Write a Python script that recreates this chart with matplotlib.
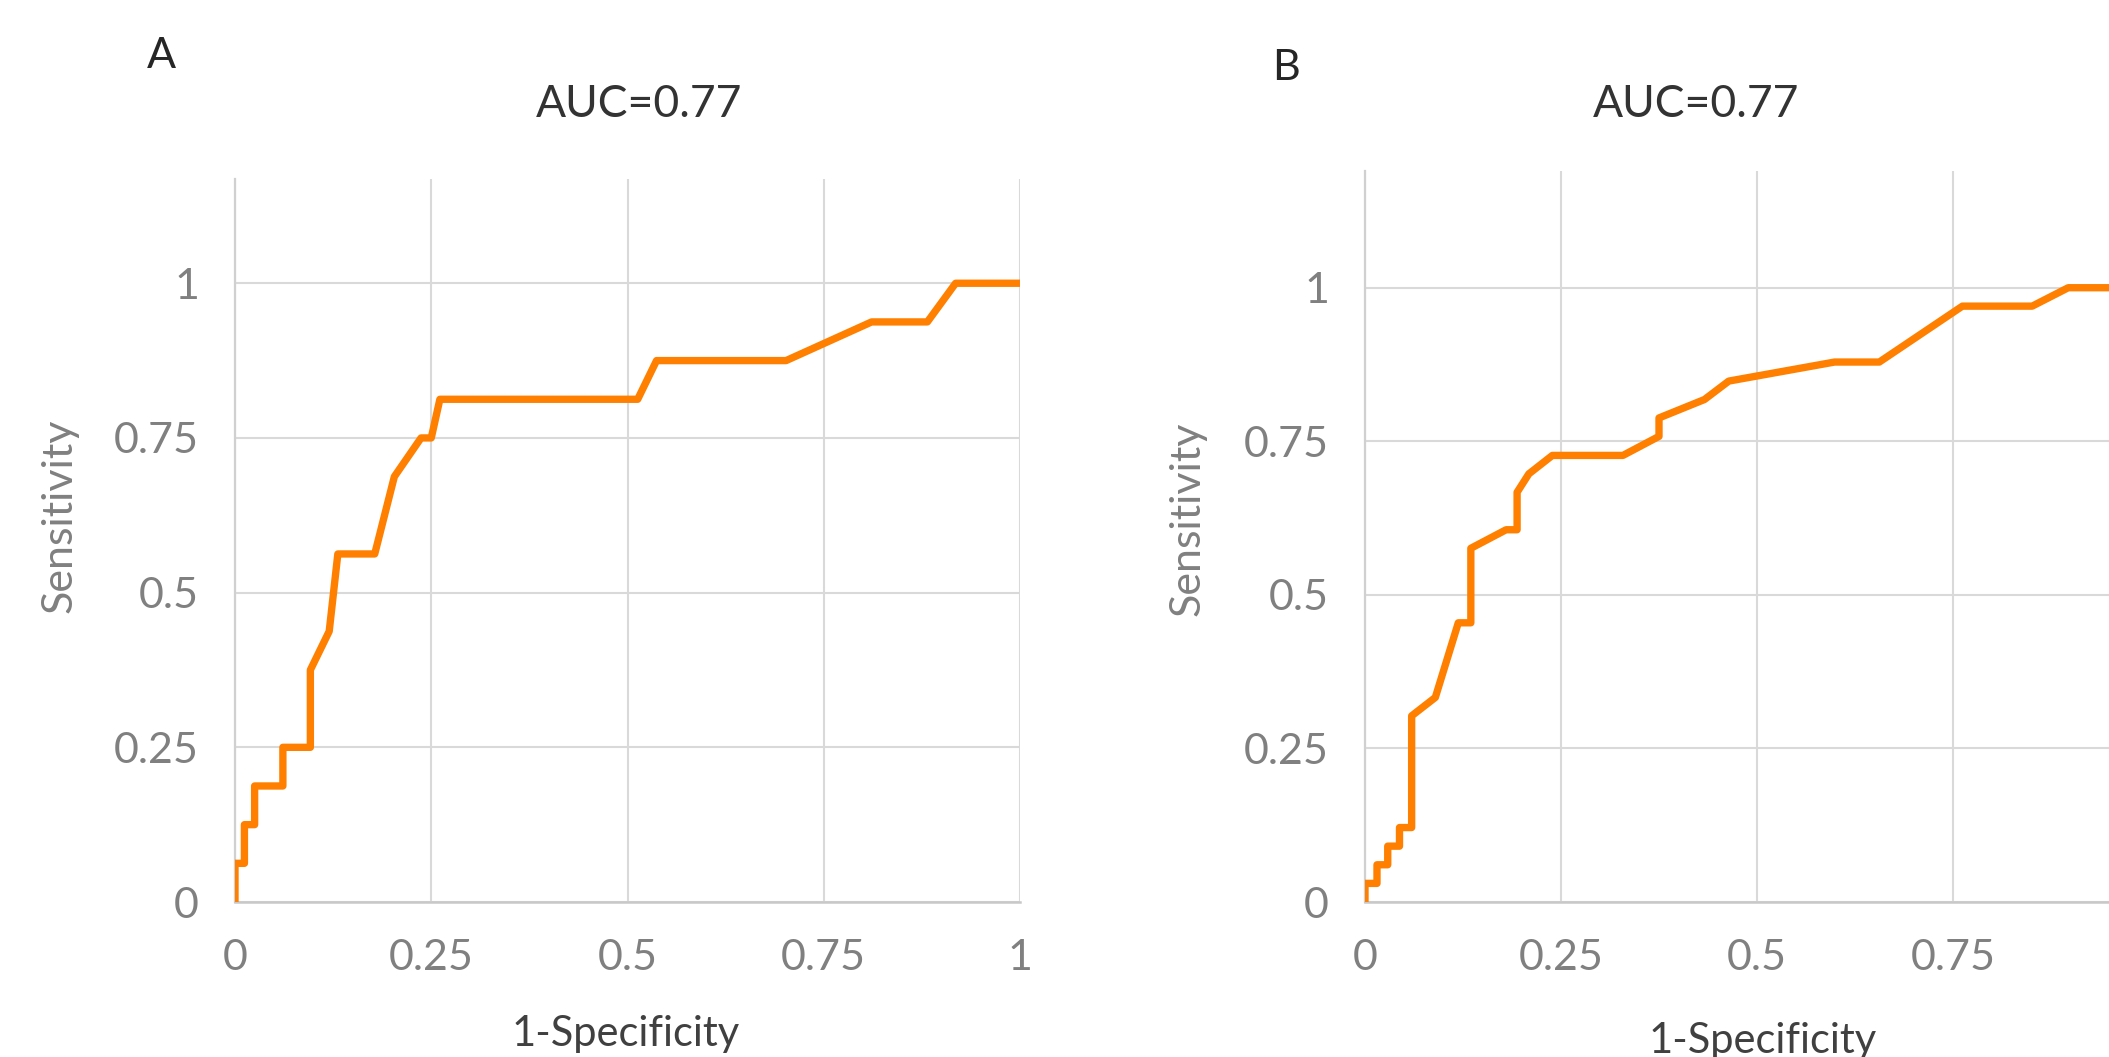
import matplotlib
matplotlib.use("Agg")
import matplotlib.pyplot as plt

# ROC curve points
fpr_a = [0, 0, 0.012, 0.012, 0.025, 0.025, 0.061, 0.061, 0.096, 0.096,
         0.120, 0.131, 0.178, 0.203, 0.237, 0.250, 0.261, 0.513, 0.537, 0.702,
         0.811, 0.882, 0.918, 1.0]
tpr_a = [0, 0.0625, 0.0625, 0.125, 0.125, 0.1875, 0.1875, 0.25, 0.25, 0.375,
         0.4375, 0.5625, 0.5625, 0.6875, 0.75, 0.75, 0.8125, 0.8125, 0.875, 0.875,
         0.9375, 0.9375, 1.0, 1.0]

fpr_b = [0, 0, 0.0153, 0.0153, 0.029, 0.029, 0.044, 0.044, 0.0595, 0.0595,
         0.0897, 0.119, 0.135, 0.135, 0.180, 0.194, 0.194, 0.209, 0.239, 0.329,
         0.375, 0.375, 0.433, 0.464, 0.599, 0.656, 0.762, 0.851, 0.897, 1.0]
tpr_b = [0, 0.0303, 0.0303, 0.0606, 0.0606, 0.0909, 0.0909, 0.1212, 0.1212, 0.303,
         0.333, 0.4545, 0.4545, 0.5758, 0.606, 0.606, 0.667, 0.697, 0.727, 0.727,
         0.758, 0.788, 0.818, 0.848, 0.879, 0.879, 0.970, 0.970, 1.0, 1.0]

ticks = [0, 0.25, 0.5, 0.75, 1]
tick_labels = ["0", "0.25", "0.5", "0.75", "1"]
panel_labels = ["A", "B"]
titles = ["AUC=0.77", "AUC=0.77"]

plt.rcParams["font.family"] = ["Lato", "DejaVu Sans"]

W, H = 2109, 1057
fig = plt.figure(figsize=(W / 100, H / 100), dpi=100)


def px(x, y):
    # pixel position (from top-left) -> figure fraction
    return x / W, 1 - y / H


def roc_panel(rect, fpr, tpr, ytop, xlabels):
    ax = fig.add_axes(rect)
    ax.plot(fpr, tpr, color="#FF8000", lw=5.3, solid_joinstyle="round", zorder=3)
    ax.set_xlim(0, 1)
    ax.set_ylim(0, ytop)
    ax.set_xticks(ticks)
    ax.set_xticklabels(xlabels)
    ax.set_yticks(ticks)
    ax.set_yticklabels(tick_labels)
    ax.tick_params(length=0, labelsize=31, labelcolor="#808080")
    ax.tick_params(axis="x", pad=27)
    ax.tick_params(axis="y", pad=26)
    ax.grid(True, color="#D9D9D9", lw=1.5)
    ax.set_axisbelow(True)
    for s in ["top", "right"]:
        ax.spines[s].set_visible(False)
    ax.spines["left"].set_color("#D0D0D0")
    ax.spines["left"].set_linewidth(1.6)
    ax.spines["bottom"].set_color("#C8C8C8")
    ax.spines["bottom"].set_linewidth(1.8)
    return ax


# panel A
roc_panel([235 / W, 155 / H, 785 / W, (902 - 179.3) / H], fpr_a, tpr_a, 1.168, tick_labels)
# panel B runs past the right edge of the picture, so its "1" label falls outside
roc_panel([1365 / W, 155 / H, 784 / W, (902 - 171) / H], fpr_b, tpr_b, 1.19,
          tick_labels[:-1] + [""])

fig.text(*px(161, 68), panel_labels[0], ha="center", va="baseline", fontsize=31, color="#262626")
fig.text(*px(1286, 80), panel_labels[1], ha="center", va="baseline", fontsize=31, color="#262626")
fig.text(*px(639, 117), titles[0], ha="center", va="baseline", fontsize=32, color="#333333")
fig.text(*px(1696, 117), titles[1], ha="center", va="baseline", fontsize=32, color="#333333")
fig.text(*px(626, 1046), "1-Specificity", ha="center", va="baseline", fontsize=30, color="#404040")
fig.text(*px(1763, 1053), "1-Specificity", ha="center", va="baseline", fontsize=30, color="#404040")
fig.text(*px(60, 516), "Sensitivity", ha="center", va="center", rotation=90, fontsize=31, color="#808080")
fig.text(*px(1188, 519), "Sensitivity", ha="center", va="center", rotation=90, fontsize=31, color="#808080")

fig.savefig("out.png", dpi=100)
